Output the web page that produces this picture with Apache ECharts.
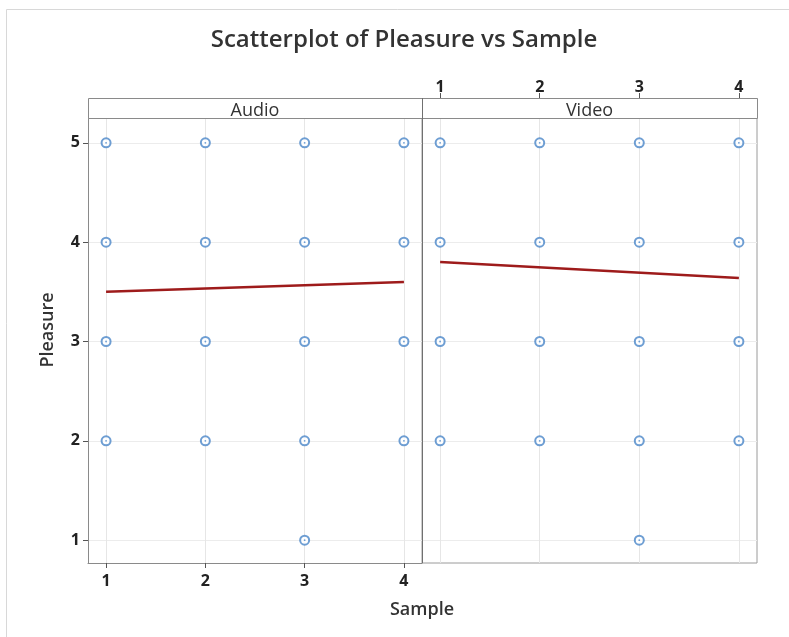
<!DOCTYPE html>
<html>
<head>
<meta charset="utf-8">
<script src="https://cdn.jsdelivr.net/npm/echarts@6/dist/echarts.min.js"></script>
<style>html,body{margin:0;padding:0;background:#fff}#c{width:789px;height:637px}</style>
</head>
<body>
<div id="c"></div>
<script>
// ---- data ----
var panels = ['Audio', 'Video'];
var xTicks = [1, 2, 3, 4];
var yTicks = [1, 2, 3, 4, 5];
var audioPoints = [[1,5],[1,4],[1,3],[1,2],[2,5],[2,4],[2,3],[2,2],[3,5],[3,4],[3,3],[3,2],[3,1],[4,5],[4,4],[4,3],[4,2]];
var videoPoints = [[1,5],[1,4],[1,3],[1,2],[2,5],[2,4],[2,3],[2,2],[3,5],[3,4],[3,3],[3,2],[3,1],[4,5],[4,4],[4,3],[4,2]];
var fitX = [1, 4];
var audioFit = [3.50, 3.60];
var videoFit = [3.80, 3.64];

var FONT = 'Open Sans';
var chart = echarts.init(document.getElementById('c'));
var blue = '#4a86c8';
var red = '#9e1b1b';
function fitData(ys){ return fitX.map(function(x,i){ return [x, ys[i]]; }); }

var gridLeft = 88, gridTop = 118, gridH = 445, w1 = 334, w2 = 335, strip = 20;
var xMin = 0.818, xMax = 4.182, yMin = 0.77, yMax = 5.25;

function xAxis(idx, pos, showLabel) {
  return {
    type: 'value', gridIndex: idx, position: pos, offset: pos === 'top' ? strip : 0,
    min: xMin, max: xMax,
    axisLine: { show: true, onZero: false, lineStyle: { color: '#8a8a8a', width: 1 } },
    axisTick: { show: showLabel, inside: false, length: 5, lineStyle: { color: '#555' }, customValues: xTicks },
    axisLabel: { show: showLabel, customValues: xTicks, color: '#222', fontFamily: FONT, fontSize: 16, fontWeight: 'bold', margin: pos === 'top' ? 3 : 10 },
    splitLine: { show: true, lineStyle: { color: '#e6e6e6', width: 1 } }
  };
}
function yAxis(idx, showLabel) {
  return {
    type: 'value', gridIndex: idx, min: yMin, max: yMax,
    axisLine: { show: showLabel, lineStyle: { color: '#8a8a8a' } },
    axisTick: { show: showLabel, length: 5, lineStyle: { color: '#555' }, customValues: yTicks },
    axisLabel: { show: showLabel, customValues: yTicks, color: '#222', fontFamily: FONT, fontSize: 16, fontWeight: 'bold', margin: 8 },
    splitLine: { show: true, lineStyle: { color: '#ececec', width: 1 } }
  };
}
function scatter(idx, pts) {
  return [{
    type: 'scatter', xAxisIndex: idx, yAxisIndex: idx, data: pts, symbol: 'emptyCircle', symbolSize: 9,
    itemStyle: { color: blue, borderColor: blue, borderWidth: 1.1 }, silent: true, z: 3
  }, {
    type: 'scatter', xAxisIndex: idx, yAxisIndex: idx, data: pts, symbol: 'circle', symbolSize: 1.8,
    itemStyle: { color: blue }, silent: true, z: 4
  }];
}
function fit(idx, ys) {
  return { type: 'line', xAxisIndex: idx, yAxisIndex: idx, data: fitData(ys), symbol: 'none',
    lineStyle: { color: red, width: 2.5 }, silent: true, z: 5 };
}

var option = {
  backgroundColor: '#fff',
  animation: false,
  grid: [
    { left: gridLeft, top: gridTop, width: w1, height: gridH, containLabel: false },
    { left: gridLeft + w1, top: gridTop, width: w2, height: gridH, containLabel: false, show: true, borderColor: '#9a9a9a', borderWidth: 1, backgroundColor: 'transparent' }
  ],
  xAxis: [ xAxis(0, 'bottom', true), xAxis(1, 'top', true) ],
  yAxis: [ yAxis(0, true), yAxis(1, false) ],
  series: [].concat(scatter(0, audioPoints), scatter(1, videoPoints), [fit(0, audioFit), fit(1, videoFit)]),
  graphic: [
    { type: 'line', shape: { x1: 6.5, y1: 9.5, x2: 789, y2: 9.5 }, style: { stroke: '#d8d8d8', lineWidth: 1 }, silent: true },
    { type: 'line', shape: { x1: 6.5, y1: 9.5, x2: 6.5, y2: 637 }, style: { stroke: '#d8d8d8', lineWidth: 1 }, silent: true },
    { type: 'text', x: 404, y: 40, style: { text: 'Scatterplot of Pleasure vs Sample', fill: '#333', font: '600 24px "' + FONT + '"', textAlign: 'center', textVerticalAlign: 'middle' }, silent: true, z: 12 },
    { type: 'rect', shape: { x: gridLeft + 0.5, y: gridTop - strip + 0.5, width: w1 + w2, height: strip }, style: { fill: '#fff', stroke: '#8a8a8a', lineWidth: 1 }, silent: true, z: 10 },
    { type: 'line', shape: { x1: gridLeft + w1 + 0.5, y1: gridTop - strip, x2: gridLeft + w1 + 0.5, y2: gridTop + gridH }, style: { stroke: '#707070', lineWidth: 1 }, silent: true, z: 11 },
    { type: 'text', x: gridLeft + w1 / 2, y: gridTop - 7, style: { text: panels[0], fill: '#333', font: '18px "' + FONT + '"', textAlign: 'center', textVerticalAlign: 'middle' }, silent: true, z: 12 },
    { type: 'text', x: gridLeft + w1 + w2 / 2, y: gridTop - 7, style: { text: panels[1], fill: '#333', font: '18px "' + FONT + '"', textAlign: 'center', textVerticalAlign: 'middle' }, silent: true, z: 12 },
    { type: 'text', x: gridLeft + w1, y: 610, style: { text: 'Sample', fill: '#333', font: '600 18px "' + FONT + '"', textAlign: 'center', textVerticalAlign: 'middle' }, silent: true, z: 12 },
    { type: 'text', x: 48, y: 330, rotation: Math.PI / 2, style: { text: 'Pleasure', fill: '#333', font: '600 18px "' + FONT + '"', textAlign: 'center', textVerticalAlign: 'middle' }, silent: true, z: 12 }
  ]
};
chart.setOption(option);
</script>
</body>
</html>
